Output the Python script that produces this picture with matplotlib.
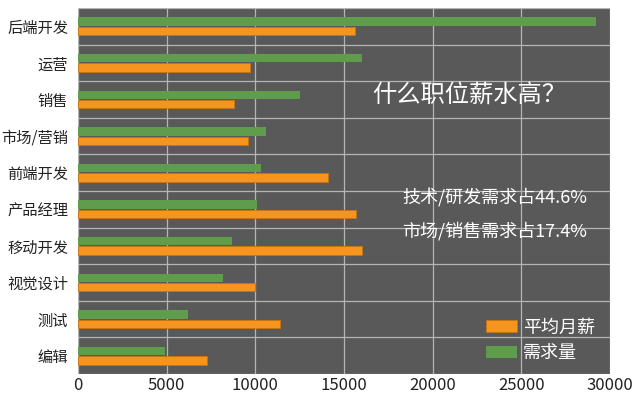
import numpy as np
import matplotlib
matplotlib.use("Agg")
import matplotlib.pyplot as plt

plt.rcParams['font.family'] = ['Noto Sans CJK SC', 'DejaVu Sans']

# data, top row first
jobs = ["后端开发", "运营", "销售", "市场/营销", "前端开发",
        "产品经理", "移动开发", "视觉设计", "测试", "编辑"]
demand = [29200, 16000, 12500, 10600, 10300, 10100, 8700, 8200, 6200, 4900]
salary = [15600, 9700, 8800, 9600, 14100, 15700, 16000, 10000, 11400, 7300]
xticks = [0, 5000, 10000, 15000, 20000, 25000, 30000]

GREEN = "#5f9c4c"
ORANGE = "#f5951f"
BG = "#595959"

fig = plt.figure(figsize=(6.4, 3.97), dpi=100)
ax = fig.add_axes([78 / 640, 23 / 397, 532 / 640, 366 / 397])
ax.set_facecolor(BG)

y = np.arange(len(jobs))
h = 0.23
ax.barh(y - 0.13, demand, height=h, color=GREEN, label="需求量", zorder=3)
ax.barh(y + 0.13, salary, height=h, color=ORANGE, edgecolor="#c87410",
        linewidth=0.6, label="平均月薪", zorder=3)

ax.set_xlim(0, 29900)
ax.set_ylim(len(jobs) - 0.5, -0.5)
ax.set_xticks(xticks)
ax.set_xticklabels([str(v) for v in xticks], fontsize=12, color="#222222")
ax.set_yticks(y)
ax.set_yticklabels(jobs, fontsize=11, color="#222222")
ax.set_yticks(np.arange(len(jobs) + 1) - 0.5, minor=True)
ax.tick_params(which="both", length=0)
ax.tick_params(axis="y", pad=7)
ax.tick_params(axis="x", pad=2)
ax.grid(axis="x", color="#b5b5b5", linewidth=0.9, zorder=1)
ax.grid(axis="y", which="minor", color="#b5b5b5", linewidth=0.9, zorder=1)
ax.grid(axis="y", which="major", visible=False)
for s in ax.spines.values():
    s.set_visible(False)

ax.text(0.735, 0.762, "什么职位薪水高？", transform=ax.transAxes, fontsize=17.5,
        color="white", ha="center", va="center")
ax.text(0.957, 0.48, "技术/研发需求占44.6%", transform=ax.transAxes, fontsize=13,
        color="white", ha="right", va="center")
ax.text(0.957, 0.39, "市场/销售需求占17.4%", transform=ax.transAxes, fontsize=13,
        color="white", ha="right", va="center")

handles, labels = ax.get_legend_handles_labels()
leg = ax.legend(handles[::-1], labels[::-1], loc="lower right",
                bbox_to_anchor=(0.985, 0.012), borderaxespad=0, frameon=False,
                fontsize=13, handlelength=1.75, handleheight=0.6,
                labelspacing=0.45, handletextpad=0.3)
for t in leg.get_texts():
    t.set_color("white")

fig.savefig("out.png")
